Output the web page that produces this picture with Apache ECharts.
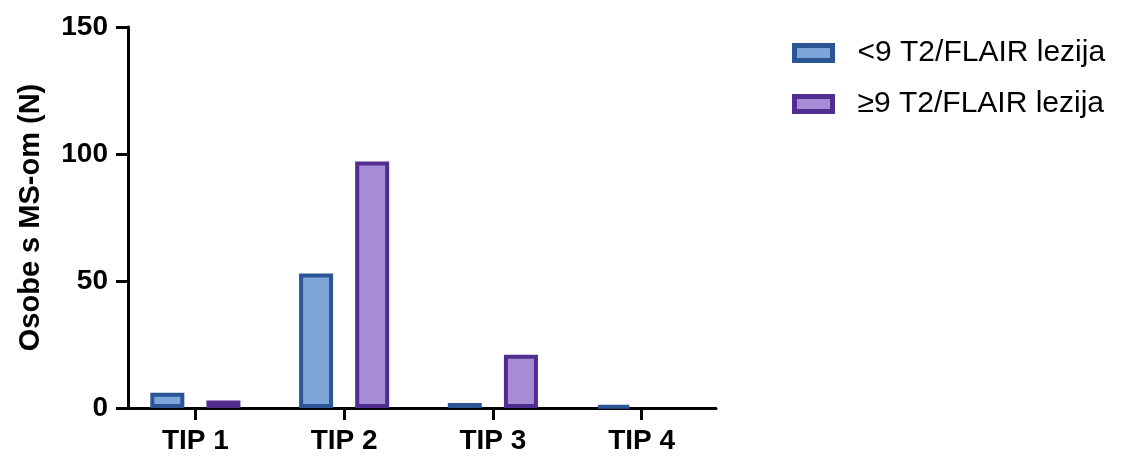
<!DOCTYPE html>
<html><head><meta charset="utf-8">
<script src="https://cdn.jsdelivr.net/npm/echarts@6/dist/echarts.min.js"></script>
<style>html,body{margin:0;padding:0;background:#fff}#c{width:1124px;height:459px}</style>
</head><body><div id="c"></div>
<script>
const categories = ['TIP 1', 'TIP 2', 'TIP 3', 'TIP 4'];
const seriesNames = ['<9 T2/FLAIR lezija', '≥9 T2/FLAIR lezija'];
const lowValues = [6, 53, 2, 1];
const highValues = [3, 97, 21, 0];
const yTicks = [0, 50, 100, 150];

const fills = ['#7ea5d8', '#a58cd5'];
const borders = ['#2b5596', '#512d90'];
const font = '"Liberation Sans", Arial, sans-serif';

function toData(arr) {
  return arr.map(v => v === 0 ? {value: v, itemStyle: {borderWidth: 0}} : v);
}

const chart = echarts.init(document.getElementById('c'), null, {renderer: 'canvas'});
chart.setOption({
  animation: false,
  textStyle: {fontFamily: font},
  grid: {left: 121, top: 27, bottom: 51, width: 595, containLabel: false},
  legend: {
    orient: 'vertical', left: 787, top: 33, itemWidth: 38, itemHeight: 15, itemGap: 21,
    icon: 'rect',
    textStyle: {fontSize: 30, color: '#000', fontFamily: font, padding: [0, 0, 0, 20]},
    data: seriesNames.map((n, i) => ({
      name: n, icon: 'rect',
      itemStyle: {color: fills[i], borderColor: borders[i], borderWidth: 5}
    }))
  },
  xAxis: {
    type: 'category', data: categories,
    axisLine: {lineStyle: {color: '#000', width: 3}},
    axisTick: {show: true, alignWithLabel: true, length: 12, lineStyle: {width: 3, color: '#000'}},
    axisLabel: {fontSize: 28, fontWeight: 'bold', color: '#000', margin: 19, fontFamily: font}
  },
  yAxis: {
    type: 'value', min: yTicks[0], max: yTicks[yTicks.length - 1], interval: 50, offset: -7,
    name: 'Osobe s MS-om (N)', nameLocation: 'middle', nameGap: 83, nameRotate: 90,
    nameTextStyle: {fontSize: 29, fontWeight: 'bold', color: '#000', fontFamily: font},
    splitLine: {show: false},
    axisLine: {show: true, lineStyle: {color: '#000', width: 3}},
    axisTick: {show: true, length: 12, lineStyle: {width: 3, color: '#000'}},
    axisLabel: {fontSize: 28, fontWeight: 'bold', color: '#000', margin: 20, fontFamily: font}
  },
  series: [
    {name: seriesNames[0], type: 'bar', data: toData(lowValues), barWidth: 34, barGap: '65%',
     itemStyle: {color: fills[0], borderColor: borders[0], borderWidth: 4}},
    {name: seriesNames[1], type: 'bar', data: toData(highValues), barWidth: 34,
     itemStyle: {color: fills[1], borderColor: borders[1], borderWidth: 4}}
  ]
});
</script></body></html>
